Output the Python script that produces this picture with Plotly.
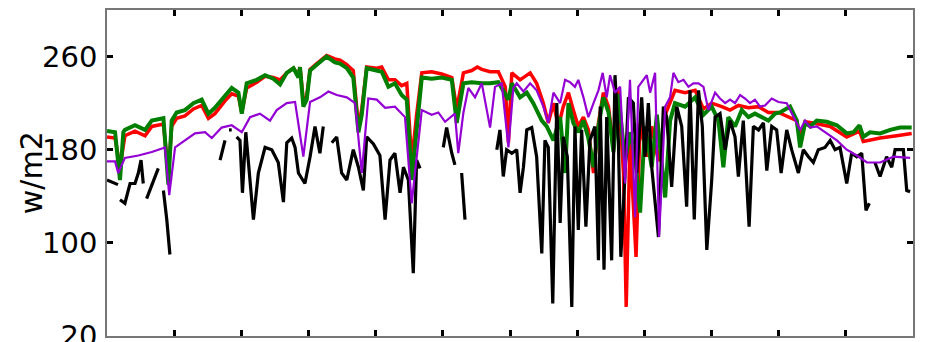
import plotly.graph_objects as go

# ---- data (day of year, w/m2) ----
green_day = [0,3.6,5.8,7.3,8.0,12.5,17.0,20.0,25.2,27.4,
             28.9,31.1,34.8,38.6,42.3,45.3,48.2,52.7,55.7,58.7,
             60.2,62.4,66.9,70.6,74.3,77.3,80.3,83.3,85.5,86.2,
             87.7,89.2,90.7,93.7,98.1,101.8,104.1,107.1,110.0,112.3,
             113.8,116.0,120.5,122.7,125.7,128.6,131.6,133.9,136.1,138.3,
             140.6,145.0,149.5,154.0,156.2,159.2,162.9,167.4,171.1,174.8,
             179.3,180.8,184.5,187.5,190.4,194.2,196.4,199.4,202.4,204.6,
             206.1,208.3,210.5,212.8,215.0,217.3,219.5,221.7,224.0,226.2,
             228.4,231.4,233.6,235.9,238.1,240.3,243.3,245.6,249.3,251.5,
             253.7,258.2,262.7,266.4,270.1,273.1,275.3,277.5,280.5,283.5,
             286.5,289.4,292.4,295.4,298.4,300.6,305.1,308.1,309.6,311.8,
             314.1,317.0,321.5,326.0,330.4,333.4,336.1,337.8,340.8,345.3,
             349.8,354.2,359.4]
green_val = [196,195,154,195,197,201,197,205,207,150,
             205,212,214,220,223,211,216,227,233,229,
             211,237,240,244,241,236,246,250,242,251,
             217,223,248,253,260,255,254,250,242,195,
             210,250,248,247,234,237,227,223,154,200,
             242,241,242,240,203,237,238,237,237,238,
             223,237,225,229,220,205,200,188,208,160,
             220,203,195,205,190,165,200,225,212,178,
             228,170,195,175,126,200,165,210,139,205,
             220,217,225,210,217,205,165,208,200,214,
             208,211,208,205,211,212,217,205,182,203,
             200,205,204,201,194,195,201,191,195,194,
             197,199,199]

red_day = [0,3.6,5.8,8.0,12.5,17.0,20.0,25.2,27.4,28.9,
           31.1,34.8,38.6,42.3,45.3,48.2,52.7,55.7,58.7,60.2,
           62.4,66.9,70.6,74.3,77.3,80.3,83.3,85.5,86.2,87.7,
           89.2,90.7,93.7,98.1,101.8,104.1,107.1,110.0,112.3,113.8,
           116.0,120.5,122.7,125.7,128.6,131.6,133.9,136.1,138.3,140.6,
           145.0,149.5,154.0,156.2,159.2,162.9,165.4,167.4,171.1,174.8,
           177.9,179.3,180.8,184.5,189.0,191.9,194.9,197.1,199.4,201.6,
           203.8,206.1,208.3,210.5,212.8,215.0,217.3,219.5,221.7,224.0,
           226.2,228.4,230.7,231.9,233.6,236.3,238.1,241.1,243.3,246.3,
           249.3,253.7,258.2,262.7,266.4,270.1,274.6,278.3,282.0,286.5,
           291.0,295.4,299.9,305.1,308.1,309.6,311.8,315.5,323.0,330.4,
           336.1,337.8,345.3,352.7,359.4]
red_val = [191,190,165,192,196,192,200,202,160,200,
           207,209,215,218,207,211,222,228,226,212,
           233,238,243,242,240,246,250,244,251,222,
           226,249,254,261,258,257,253,248,200,215,
           251,250,251,240,240,235,237,170,210,246,
           247,245,242,215,246,248,251,249,247,247,
           234,186,246,240,246,237,220,203,220,200,
           217,229,214,200,208,197,160,203,229,217,
           180,231,160,45,188,88,203,174,200,170,
           210,231,229,231,215,220,217,214,218,216,
           217,212,212,208,205,190,204,203,200,191,
           196,187,190,192,194]

purple_day = [0,3.6,5.0,8.0,14.0,20.0,25.9,27.8,30.4,34.8,
              39.3,43.8,46.8,51.2,55.7,60.2,63.9,68.3,72.8,75.8,
              80.3,84.0,87.7,90.7,95.1,98.9,102.6,107.1,110.8,113.8,
              116.7,120.5,124.2,128.6,133.1,136.1,140.6,145.0,148.0,151.0,
              155.4,156.9,159.2,161.4,164.4,167.4,171.1,173.3,176.3,179.3,
              181.5,183.0,186.0,189.0,191.9,194.9,197.1,199.4,202.4,204.6,
              206.8,209.0,210.5,212.8,215.0,217.3,219.5,221.4,223.2,224.7,
              226.9,229.2,231.4,233.6,235.9,237.3,241.1,242.6,244.8,246.6,
              249.3,251.5,253.0,255.2,257.5,259.7,261.9,264.2,266.4,268.6,
              271.6,273.8,276.1,278.3,280.5,282.8,285.0,287.2,289.4,291.7,
              293.9,296.9,299.9,303.6,306.6,309.6,311.8,314.1,317.0,321.5,
              326.0,330.4,334.9,339.4,345.3,351.3,358.7]
purple_val = [170,170,160,173,175,178,182,141,182,188,
              194,195,190,199,201,195,208,211,205,214,
              220,221,174,221,225,230,227,225,220,160,
              224,223,216,217,208,134,214,210,212,204,
              211,177,212,233,225,237,199,234,237,182,
              233,237,230,237,231,217,203,229,220,240,
              238,234,240,225,208,220,231,246,225,244,
              229,234,151,240,122,234,244,229,246,105,
              217,225,246,238,240,234,237,237,234,214,
              229,224,220,223,220,227,224,220,223,217,
              218,224,221,220,208,197,205,199,200,194,
              188,180,175,169,169,174,173]

black_day = [0,2.2,4.9,5.3,5.8,8.0,10.3,12.5,14.0,15.2,
             16.2,17.0,17.7,20.0,22.9,24.0,25.2,26.7,28.1,40.0,
             50.5,51.5,52.7,53.6,54.5,55.7,56.8,57.9,59.4,60.5,
             62.0,65.4,67.6,70.6,73.6,76.5,78.8,80.3,82.5,84.0,
             85.5,88.4,90.7,92.9,95.1,96.6,98.5,100.4,102.6,104.8,
             107.1,110.0,112.3,114.5,116.0,119.0,121.9,124.2,126.4,128.6,
             130.9,132.4,134.6,136.8,138.3,139.8,145.0,150.2,151.7,154.0,
             155.4,157.0,158.4,159.9,167.0,174.1,175.5,177.0,178.5,180.8,
             183.0,184.5,186.0,187.5,189.7,191.9,194.2,195.6,197.1,199.1,
             200.9,202.4,203.8,205.6,207.6,209.0,210.5,212.0,213.9,215.7,
             217.9,219.5,220.3,222.0,223.2,225.4,226.9,228.4,229.5,231.4,
             232.9,235.1,236.6,238.8,240.3,241.8,243.3,246.3,248.5,250.0,
             252.2,254.5,256.7,258.9,260.4,262.3,264.2,265.9,267.9,270.1,
             271.6,273.8,276.1,278.3,280.5,282.0,284.2,286.8,288.7,291.0,
             293.2,294.7,296.9,299.1,301.1,303.6,305.8,308.8,311.0,313.3,
             315.5,317.7,320.7,323.0,325.2,327.4,330.4,332.6,334.9,337.1,
             339.0,340.5,341.8,343.0,345.3,348.2,350.5,352.0,355.7,357.2,
             358.7]
black_val = [154,152,150,None,137,134,151,151,160,171,
             151,None,138,150,164,None,145,120,90,None,
             171,180,188,None,197,197,None,191,188,143,
             195,120,160,182,180,169,135,186,190,182,
             160,151,174,200,177,200,None,186,191,160,
             154,180,165,145,191,185,175,120,171,177,
             143,165,154,74,171,164,None,182,199,177,
             167,None,160,120,None,180,197,157,180,177,
             180,143,165,197,199,174,91,188,182,48,
             220,117,191,174,45,200,111,197,114,188,
             200,85,217,77,208,85,244,188,88,160,
             225,220,160,225,174,220,165,105,217,208,
             148,217,200,131,231,120,231,200,94,154,
             208,211,180,205,191,157,205,114,200,197,
             203,162,200,197,160,197,180,160,180,174,
             169,180,182,188,180,182,151,177,174,177,
             128,134,None,169,157,174,165,180,180,145,
             144]

y_ticks = [20, 100, 180, 260]
y_labels = ["20", "100", "180", "260"]
x_ticks = list(range(0, 361, 30))

fig = go.Figure()
fig.add_trace(go.Scatter(x=red_day, y=red_val, mode="lines",
                         line=dict(color="#ff0000", width=3.5)))
fig.add_trace(go.Scatter(x=green_day, y=green_val, mode="lines",
                         line=dict(color="#007f00", width=4)))
fig.add_trace(go.Scatter(x=black_day, y=black_val, mode="lines", connectgaps=False,
                         line=dict(color="#000000", width=3.2)))
fig.add_trace(go.Scatter(x=purple_day, y=purple_val, mode="lines",
                         line=dict(color="#9400d3", width=2.2)))

axis_common = dict(showline=True, linecolor="#777777", linewidth=1.5, mirror="allticks",
                   ticks="inside", ticklen=6, tickwidth=3, tickcolor="#000000",
                   showgrid=False, zeroline=False, automargin=False)

fig.update_layout(
    width=943, height=342,
    margin=dict(l=107, r=30, t=10, b=6),
    paper_bgcolor="white", plot_bgcolor="white",
    showlegend=False,
    font=dict(family="DejaVu Sans", color="#000000"),
    xaxis=dict(range=[0, 360], tickvals=x_ticks, showticklabels=False, **axis_common),
    yaxis=dict(range=[20, 300], tickvals=y_ticks, ticktext=y_labels,
               tickfont=dict(size=29), ticklabelstandoff=2,
               ticklabeloverflow="allow", **axis_common),
    annotations=[dict(text="w/m2", x=-0.094, y=0.5, xref="paper", yref="paper",
                      xanchor="center", yanchor="middle", textangle=-90,
                      showarrow=False, font=dict(size=30, family="DejaVu Sans"))],
)

fig.write_html("out.html")
